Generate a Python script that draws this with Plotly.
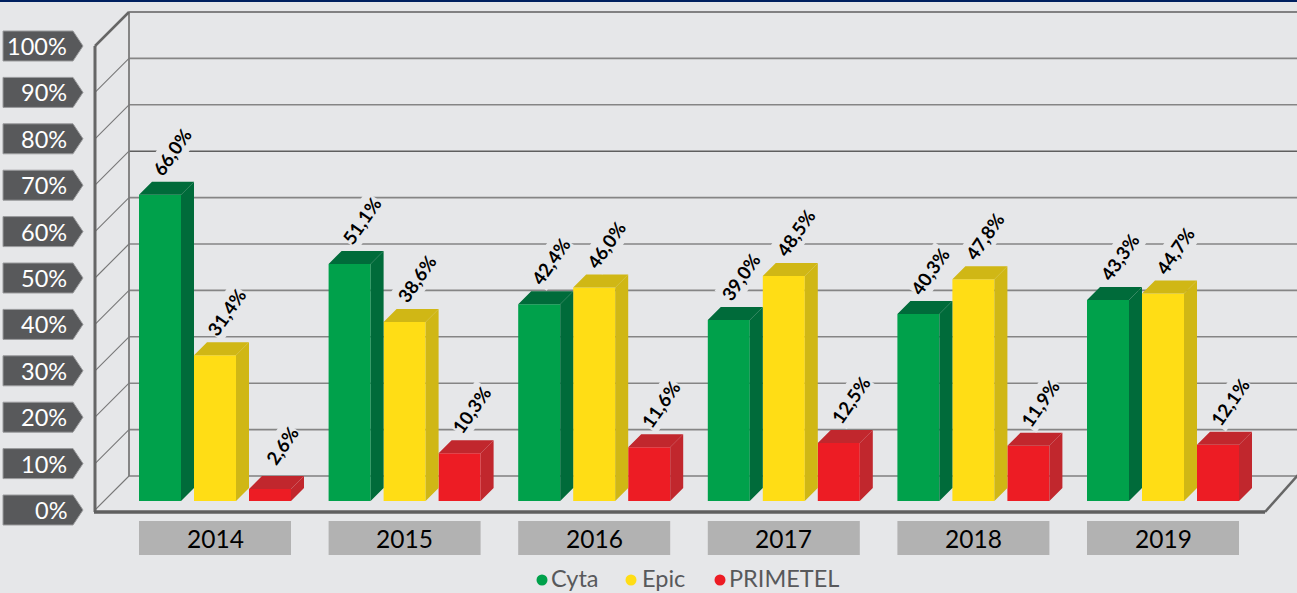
import plotly.graph_objects as go

# ---- data ----
years = ["2014", "2015", "2016", "2017", "2018", "2019"]
cyta = [66.0, 51.1, 42.4, 39.0, 40.3, 43.3]
epic = [31.4, 38.6, 46.0, 48.5, 47.8, 44.7]
primetel = [2.6, 10.3, 11.6, 12.5, 11.9, 12.1]
ticks = [0, 10, 20, 30, 40, 50, 60, 70, 80, 90, 100]
tick_labels = ["0%", "10%", "20%", "30%", "40%", "50%", "60%", "70%", "80%", "90%", "100%"]
names = ["Cyta", "Epic", "PRIMETEL"]

# ---- styles / geometry ----
W, H = 1297, 593
BG = "#E6E7E9"
FONT = "Lato"
front = ["#00A14B", "#FFDD15", "#ED1C24"]
side = ["#006B3A", "#D0B715", "#C1272D"]
PX_GROUP = 189.6          # px per group on x
PX_PCT = 4.64             # px per percentage point on y
X0_PX, Y0_PX = 215, 501   # pixel of group 0 centre / value 0 at the bars' base


def X(px):
    return (px - X0_PX) / PX_GROUP


def Y(px):
    return (Y0_PX - px) / PX_PCT


xr = [X(0), X(W)]
yr = [Y(H), Y(0)]
bar_w = 42 / PX_GROUP
offsets = [-55 / PX_GROUP, 0, 55 / PX_GROUP]
dx = 13 / PX_GROUP
dy = 13 / PX_PCT
series = [cyta, epic, primetel]

BACK0 = 476    # px of 0% on back wall
FRONT0 = 510   # px of 0% on front edge
LEFT_F, LEFT_B = 95, 129
RIGHT_F, RIGHT_B = 1265, 1297

fig = go.Figure()
shapes = []
annots = []


def line(x0, y0, x1, y1, color="#7F7F7F", width=1.6):
    shapes.append(dict(type="line", xref="x", yref="y", x0=X(x0), y0=Y(y0), x1=X(x1), y1=Y(y1),
                       line=dict(color=color, width=width), layer="below"))


# top band
shapes.append(dict(type="rect", xref="paper", yref="paper", x0=0, x1=1, y0=1 - 2 / H, y1=1,
                   fillcolor="#002060", line_width=0, layer="below"))

# walls and gridlines
for t in ticks:
    yb = BACK0 - t * PX_PCT
    yf = FRONT0 - t * PX_PCT
    if t > 0:
        line(LEFT_B, yb, W, yb, "#5F5F5F" if t in (70, 100) else "#858585", 1.6)
    line(LEFT_F, yf, LEFT_B, yb, "#777777", 1.1)
line(LEFT_B, BACK0, W, BACK0, "#7F7F7F", 1.6)
line(LEFT_B, BACK0 - 100 * PX_PCT, LEFT_B, BACK0, "#7A7A7A", 1.8)
line(LEFT_F, FRONT0 - 100 * PX_PCT, LEFT_B, BACK0 - 100 * PX_PCT, "#666666", 2.5)
line(LEFT_F, FRONT0 - 100 * PX_PCT, LEFT_F, FRONT0 + 2, "#666666", 3)
line(LEFT_F - 1, FRONT0 + 2, RIGHT_F, FRONT0 + 2, "#5F5F5F", 3.5)
line(RIGHT_F, FRONT0 + 2, W + 1, BACK0 - 1, "#666666", 2.5)

# 3D bars: bar trace for the front face, filled polygons for top and side
for i, vals in enumerate(series):
    xs = [g + offsets[i] for g in range(len(years))]
    fig.add_trace(go.Bar(x=xs, y=vals, width=bar_w, marker=dict(color=front[i], line_width=0),
                         name=names[i], showlegend=False, hoverinfo="skip"))
    sx, sy, tx, ty = [], [], [], []
    for x, v in zip(xs, vals):
        l, r = x - bar_w / 2, x + bar_w / 2
        sx += [r, r + dx, r + dx, r, r, None]
        sy += [0, dy, v + dy, v, 0, None]
        tx += [l, l + dx, r + dx, r, l, None]
        ty += [v, v + dy, v + dy, v, v, None]
        annots.append(dict(x=x + 12 / PX_GROUP, y=v + 43 / PX_PCT, xref="x", yref="y",
                           text=f"{v:.1f}%".replace(".", ","), textangle=-55, showarrow=False,
                           font=dict(family=FONT, size=18.5, color="#000000", weight="bold"),
                           bgcolor=BG, height=26, borderpad=0, xanchor="center", yanchor="middle"))
    for px_, py_ in ((sx, sy), (tx, ty)):
        fig.add_trace(go.Scatter(x=px_, y=py_, mode="lines", fill="toself", fillcolor=side[i],
                                 line=dict(width=0, color=side[i]), showlegend=False,
                                 hoverinfo="skip"))

# y tick tags
tx, ty = [], []
for t, lab in zip(ticks, tick_labels):
    c = FRONT0 - t * PX_PCT
    for a, b in [(3, c - 15), (73, c - 15), (83, c), (73, c + 15), (3, c + 15), (3, c - 15)]:
        tx.append(X(a))
        ty.append(Y(b))
    tx.append(None)
    ty.append(None)
    annots.append(dict(x=X(69), y=Y(c), xref="x", yref="y", text=lab, showarrow=False, xanchor="right",
                       yanchor="middle", font=dict(family=FONT, size=23.5, color="#FFFFFF")))
fig.add_trace(go.Scatter(x=tx, y=ty, mode="lines", fill="toself", fillcolor="#58595B",
                         line=dict(width=1, color="#9A9B9D"), showlegend=False, hoverinfo="skip"))

# year boxes
for g, yr_ in enumerate(years):
    shapes.append(dict(type="rect", xref="x", yref="y", x0=g - 76 / PX_GROUP, x1=g + 76 / PX_GROUP,
                       y0=Y(555), y1=Y(521), fillcolor="#B2B2B2", line_width=0, layer="below"))
    annots.append(dict(x=g, y=Y(538.5), xref="x", yref="y", text=yr_, showarrow=False,
                       font=dict(family=FONT, size=24.5, color="#000000")))

# legend
legend_px = [542, 631, 720]
legend_text_px = [549, 640, 727]
for i, n in enumerate(names):
    fig.add_trace(go.Scatter(x=[X(legend_px[i])], y=[Y(580)], mode="markers", name=n,
                             marker=dict(size=11, color=front[i]), showlegend=False, hoverinfo="skip"))
    annots.append(dict(x=X(legend_text_px[i]), y=Y(578), xref="x", yref="y", text=n, showarrow=False,
                       xanchor="left", yanchor="middle",
                       font=dict(family=FONT, size=23.5, color="#58595B")))

fig.update_layout(
    width=W, height=H, margin=dict(l=0, r=0, t=0, b=0), autosize=False,
    paper_bgcolor=BG, plot_bgcolor=BG, barmode="overlay", showlegend=False,
    xaxis=dict(range=xr, visible=False, fixedrange=True),
    yaxis=dict(range=yr, visible=False, fixedrange=True),
    shapes=shapes, annotations=annots,
)
fig.write_html("out.html", config=dict(displayModeBar=False),
               post_script="document.body.style.margin='0';document.body.style.overflow='hidden';")
